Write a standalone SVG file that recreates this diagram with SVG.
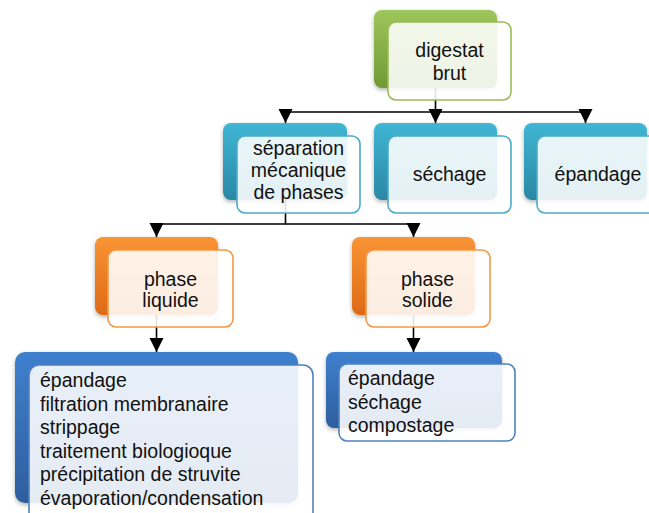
<svg xmlns="http://www.w3.org/2000/svg" width="649" height="513" viewBox="0 0 649 513">
<defs>
<linearGradient id="gG" x1="0" y1="0" x2="0" y2="1"><stop offset="0" stop-color="#9DC75B"/><stop offset="1" stop-color="#709A34"/></linearGradient>
<linearGradient id="gC" x1="0" y1="0" x2="0" y2="1"><stop offset="0" stop-color="#3FB6D4"/><stop offset="1" stop-color="#2B88A4"/></linearGradient>
<linearGradient id="gO" x1="0" y1="0" x2="0" y2="1"><stop offset="0" stop-color="#F99434"/><stop offset="1" stop-color="#DE6A16"/></linearGradient>
<linearGradient id="gB" x1="0" y1="0" x2="0" y2="1"><stop offset="0" stop-color="#3F80CF"/><stop offset="1" stop-color="#2E5E9E"/></linearGradient>
<filter id="sh" x="-10%" y="-10%" width="120%" height="130%"><feDropShadow dx="0" dy="2" stdDeviation="2" flood-color="#000" flood-opacity="0.3"/></filter>
<marker id="ah" viewBox="0 0 10 10" refX="10" refY="5" markerWidth="14" markerHeight="15" markerUnits="userSpaceOnUse" orient="auto"><path d="M0,0 L10,5 L0,10 Z" fill="#000"/></marker>
<style>
.back{filter:url(#sh)}
.front{fill:#FFFFFF;fill-opacity:0.88;stroke-width:1.6}
.fg{stroke:#9BBB59}.fc{stroke:#4BACC6}.fo{stroke:#F79646}.fb{stroke:#4F81BD}
text{font-family:"Liberation Sans",Arial,sans-serif;font-size:19.5px;fill:#111}
.c{text-anchor:middle}
.con{fill:none;stroke:#000;stroke-width:1.6}
</style>
</defs>
<g id="connectors">
<path class="con" d="M435.5,87 V112 H285.5 V123" marker-end="url(#ah)"/>
<path class="con" d="M435.5,112 V123" marker-end="url(#ah)"/>
<path class="con" d="M435.5,112 H585.5 V123" marker-end="url(#ah)"/>
<path class="con" d="M285.5,200 V224 H156.5 V237" marker-end="url(#ah)"/>
<path class="con" d="M285.5,224 H413.5 V237" marker-end="url(#ah)"/>
<path class="con" d="M156.5,315 V352" marker-end="url(#ah)"/>
<path class="con" d="M413.5,315 V352" marker-end="url(#ah)"/>
</g>
<g id="n-digestat">
<rect class="back" x="374" y="10" width="123" height="78" rx="8" fill="url(#gG)"/>
<rect class="front fg" x="388" y="22" width="123" height="78" rx="8"/>
<text class="c" x="449.5" y="57">digestat</text>
<text class="c" x="449.5" y="80">brut</text>
</g>
<g id="n-separation">
<rect class="back" x="223" y="123" width="124" height="77" rx="8" fill="url(#gC)"/>
<rect class="front fc" x="237" y="136" width="123" height="77" rx="8"/>
<text class="c" x="298.5" y="155">séparation</text>
<text class="c" x="298.5" y="177">mécanique</text>
<text class="c" x="298.5" y="199">de phases</text>
</g>
<g id="n-sechage">
<rect class="back" x="374" y="123" width="123" height="77" rx="8" fill="url(#gC)"/>
<rect class="front fc" x="388" y="136" width="123" height="77" rx="8"/>
<text class="c" x="449.5" y="181">séchage</text>
</g>
<g id="n-epandage">
<rect class="back" x="524" y="123" width="123" height="77" rx="8" fill="url(#gC)"/>
<rect class="front fc" x="537" y="136" width="123" height="77" rx="8"/>
<text class="c" x="598" y="181">épandage</text>
</g>
<g id="n-liquide">
<rect class="back" x="95" y="237" width="123" height="78" rx="8" fill="url(#gO)"/>
<rect class="front fo" x="108" y="250" width="125" height="77" rx="8"/>
<text class="c" x="170.5" y="286">phase</text>
<text class="c" x="170.5" y="307">liquide</text>
</g>
<g id="n-solide">
<rect class="back" x="352" y="237" width="123" height="78" rx="8" fill="url(#gO)"/>
<rect class="front fo" x="366" y="250" width="124" height="77" rx="8"/>
<text class="c" x="427.5" y="286">phase</text>
<text class="c" x="427.5" y="307">solide</text>
</g>
<g id="n-liste-liquide">
<rect class="back" x="15" y="352" width="283" height="151" rx="10" fill="url(#gB)"/>
<rect class="front fb" x="29" y="365" width="284" height="160" rx="10"/>
<text x="40" y="387">épandage</text>
<text x="40" y="410.5">filtration membranaire</text>
<text x="40" y="434">strippage</text>
<text x="40" y="457.5">traitement biologioque</text>
<text x="40" y="481">précipitation de struvite</text>
<text x="40" y="504.5">évaporation/condensation</text>
</g>
<g id="n-liste-solide">
<rect class="back" x="326" y="352" width="176" height="76" rx="8" fill="url(#gB)"/>
<rect class="front fb" x="339" y="364" width="176" height="77" rx="8"/>
<text x="348" y="385">épandage</text>
<text x="348" y="408.5">séchage</text>
<text x="348" y="432">compostage</text>
</g>
</svg>
